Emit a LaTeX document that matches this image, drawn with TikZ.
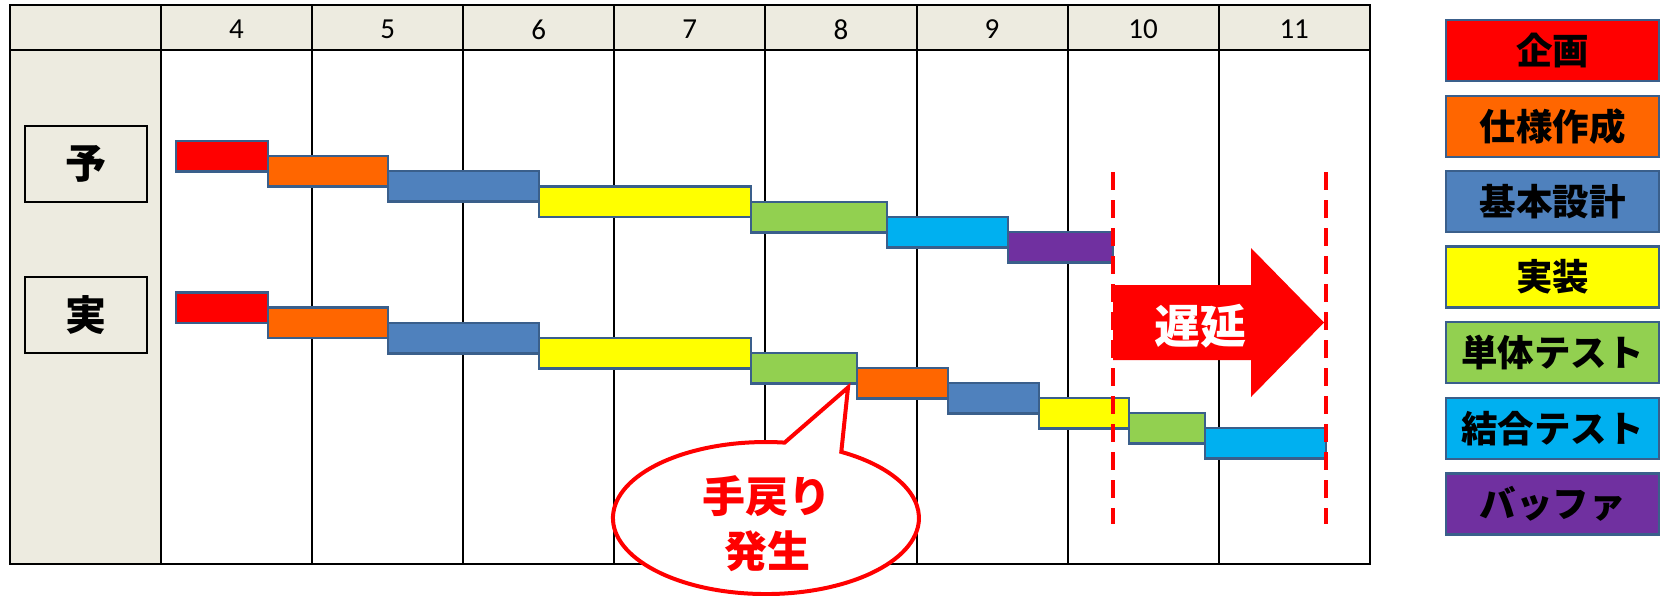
\documentclass[tikz,border=0pt]{standalone}
\usepackage{fontspec}
\setmainfont{Carlito}
\newfontfamily\jp{Noto Sans CJK JP}
\usetikzlibrary{calc}
\definecolor{beige}{HTML}{EDEBE0}
\definecolor{barline}{HTML}{3A5F8B}
\definecolor{cRed}{HTML}{FF0000}
\definecolor{cOrange}{HTML}{FF6600}
\definecolor{cBlue}{HTML}{4F81BD}
\definecolor{cYellow}{HTML}{FFFF00}
\definecolor{cGreen}{HTML}{92D050}
\definecolor{cCyan}{HTML}{00B0F0}
\definecolor{cPurple}{HTML}{7030A0}
\tikzset{
  gbar/.style={draw=barline, line width=2.5pt, rectangle, inner sep=0pt, outer sep=0pt, minimum height=30.5pt, anchor=north west},
  legendbox/.style={draw=barline, line width=2.5pt, rectangle, inner sep=0pt, minimum width=213pt, minimum height=61pt, font=\jp\bfseries\fontsize{36.5}{36.5}\selectfont, text=black},
  sidebox/.style={draw=black, line width=1.8pt, fill=beige, rectangle, inner sep=0pt, minimum width=122pt, minimum height=76pt, font=\jp\bfseries\fontsize{41}{41}\selectfont},
  hdr/.style={font=\fontsize{29}{29}\selectfont, inner sep=0pt},
  gridline/.style={draw=black, line width=2pt},
  delayline/.style={draw=cRed, line width=3.3pt, dash pattern=on 17.5pt off 10.5pt},
  balloon/.style={draw=cRed, line width=4pt, fill=white, line join=miter},
}
\newcommand\gbar[5]{\node[gbar, fill=#5, minimum width={(#3-#2)*1pt}] (#1) at (#2,#4) {};}
\begin{document}
\begin{tikzpicture}[x=1pt, y=-1pt]
\useasboundingbox (0,0) rectangle (1665,595);
% table
\fill[beige] (10,5) rectangle (1370,50);
\fill[beige] (10,50) rectangle (161,564);
\draw[gridline] (10,50) -- (1370,50);
\foreach \i in {0,...,7} {
  \draw[gridline] ({161+151.1*\i},5) -- ({161+151.1*\i},564);
}
\draw[gridline] (10,5) rectangle (1369.8,564);
% header
\foreach \m [count=\i from 0] in {4,5,6,7,8,9,10,11} {
  \node[hdr] (h\m) at ({236.5+151.1*\i},29.5) {\m};
}
% side labels
\node[sidebox] (yo) at (86,164) {予};
\node[sidebox] (ji) at (86,315) {実};
% plan bars
\gbar{p1}{176}{268}{141}{cRed}
\gbar{p2}{268}{388}{156}{cOrange}
\gbar{p3}{388}{539}{171}{cBlue}
\gbar{p4}{539}{751}{186.5}{cYellow}
\gbar{p5}{751}{887}{202}{cGreen}
\gbar{p6}{887}{1008}{217}{cCyan}
\gbar{p7}{1008}{1113}{232}{cPurple}
% actual bars
\gbar{a1}{176}{268}{292.5}{cRed}
\gbar{a2}{268}{388}{307.5}{cOrange}
\gbar{a3}{388}{539}{323}{cBlue}
\gbar{a4}{539}{751}{338}{cYellow}
\gbar{a5}{751}{857}{353}{cGreen}
\gbar{a6}{857}{948}{368}{cOrange}
\gbar{a7}{948}{1039}{383}{cBlue}
\gbar{a8}{1039}{1129}{398}{cYellow}
\gbar{a9}{1129}{1205}{413}{cGreen}
\gbar{a10}{1205}{1326}{428}{cCyan}
% delay arrow
\fill[cRed] (1113,285) -- (1251,285) -- (1251,248) -- (1324,322.5) -- (1251,397) -- (1251,360) -- (1113,360) -- cycle;
\node[font=\jp\bfseries\fontsize{46}{46}\selectfont, text=white, inner sep=0pt] (delay) at (1200,326) {遅延};
% dashed lines
\coordinate (d1t) at (1113,172);
\coordinate (d1b) at (1113,524);
\coordinate (d2t) at (1326,172);
\coordinate (d2b) at (1326,524);
\draw[delayline] (d1t) -- (d1b);
\draw[delayline] (d2t) -- (d2b);
% balloon
\coordinate (tip) at ($(a5.south east)+(-9,4)$);
\draw[balloon] (784.6,442.6) arc[start angle=83, end angle=420.5, x radius=153pt, y radius=76pt] -- (tip) -- cycle;
\node[font=\jp\bfseries\fontsize{43}{55}\selectfont, text=cRed, align=center, inner sep=0pt] (modori) at (767,524) {手戻り\\発生};
% legend
\node[legendbox, fill=cRed] (l1) at (1552.5,50.5) {企画};
\node[legendbox, fill=cOrange] (l2) at (1552.5,126.5) {仕様作成};
\node[legendbox, fill=cBlue] (l3) at (1552.5,201.5) {基本設計};
\node[legendbox, fill=cYellow] (l4) at (1552.5,277) {実装};
\node[legendbox, fill=cGreen] (l5) at (1552.5,352.5) {単体テスト};
\node[legendbox, fill=cCyan] (l6) at (1552.5,428.5) {結合テスト};
\node[legendbox, fill=cPurple] (l7) at (1552.5,504) {バッファ};
\end{tikzpicture}
\end{document}
